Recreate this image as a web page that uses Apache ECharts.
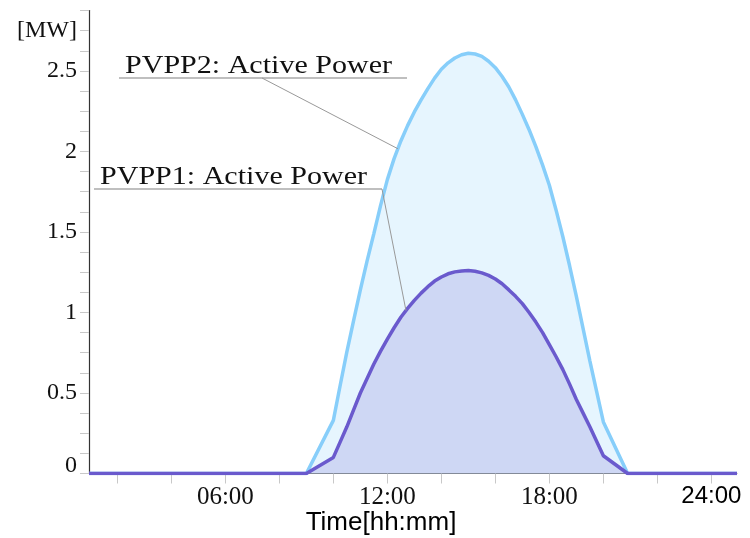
<!DOCTYPE html>
<html>
<head>
<meta charset="utf-8">
<script src="https://cdn.jsdelivr.net/npm/echarts@6/dist/echarts.min.js"></script>
<style>
html,body{margin:0;padding:0;background:#fff;}
#chart{width:750px;height:538px;}
</style>
</head>
<body>
<div id="chart"></div>
<script>
// ---- data (hours of day, MW) ----
const timeHours = [0.95, 9,
  10, 10.25, 10.5, 10.75, 11, 11.25, 11.5, 11.75, 12, 12.25, 12.5, 12.75,
  13, 13.25, 13.5, 13.75, 14, 14.25, 14.5, 14.75, 15, 15.25, 15.5, 15.75,
  16, 16.25, 16.5, 16.75, 17, 17.25, 17.5, 17.75, 18, 18.25, 18.5, 18.75,
  19, 19.25, 19.5, 19.75, 20, 20.9, 24.95];
const pvpp2Power = [0, 0,
  0.33, 0.545, 0.755, 0.95, 1.14, 1.32, 1.49, 1.665, 1.825, 1.955, 2.065, 2.16,
  2.245, 2.32, 2.39, 2.455, 2.51, 2.55, 2.58, 2.60, 2.61, 2.605, 2.59, 2.56,
  2.52, 2.465, 2.40, 2.32, 2.23, 2.135, 2.03, 1.915, 1.79, 1.635, 1.47, 1.29,
  1.10, 0.90, 0.70, 0.51, 0.32, 0, 0];
const pvpp1Power = [0, 0,
  0.10, 0.195, 0.29, 0.395, 0.50, 0.59, 0.68, 0.76, 0.835, 0.905, 0.97, 1.025,
  1.075, 1.12, 1.16, 1.195, 1.22, 1.24, 1.252, 1.258, 1.26, 1.256, 1.246, 1.23,
  1.208, 1.178, 1.14, 1.10, 1.055, 1.00, 0.94, 0.875, 0.80, 0.725, 0.645, 0.555,
  0.46, 0.375, 0.29, 0.20, 0.11, 0, 0];
const seriesNames = ['PVPP2: Active Power', 'PVPP1: Active Power'];
const xTickHours = [2, 4, 6, 8, 10, 12, 14, 16, 18, 20, 22, 24];
const xLabelHours = [6, 12, 18, 24];
const yUnitLabel = '[MW]';
// hour at which each annotation's leader line touches its curve
const annotationHours = [12.39, 12.69];

const SERIF = '"Liberation Serif", "DejaVu Serif", serif';
const SANS = '"Liberation Sans", Arial, sans-serif';

function pairs(xs, ys) { return xs.map((x, i) => [x, ys[i]]); }
function interp(xs, ys, h) {
  for (let i = 0; i < xs.length - 1; i++) {
    if (h >= xs[i] && h <= xs[i + 1]) {
      const t = (h - xs[i]) / (xs[i + 1] - xs[i]);
      return ys[i] + t * (ys[i + 1] - ys[i]);
    }
  }
  return 0;
}
function pad(n) { return (n < 10 ? '0' : '') + n; }

const chart = echarts.init(document.getElementById('chart'), null, {renderer: 'canvas'});

const option = {
  animation: false,
  backgroundColor: '#fff',
  grid: {left: 89, right: 13, top: 10.5, bottom: 64.5, containLabel: false, outerBoundsMode: 'none'},
  xAxis: {
    type: 'value',
    min: 0.95,
    max: 24.95,
    axisLine: {show: true, lineStyle: {color: '#888', width: 1}},
    axisTick: {show: true, customValues: xTickHours, length: 10, lineStyle: {color: '#c8c8c8', width: 1}},
    axisLabel: {
      customValues: xLabelHours,
      margin: 11,
      fontFamily: SERIF,
      fontSize: 25,
      color: '#111',
      formatter: function (v) {
        const s = pad(Math.round(v)) + ':00';
        return Math.round(v) === 24 ? '{s|' + s + '}' : s;
      },
      rich: {s: {fontFamily: SANS, fontSize: 24, color: '#000'}}
    },
    splitLine: {show: false},
    name: 'Time[hh:mm]',
    nameLocation: 'middle',
    nameGap: 36,
    nameMoveOverlap: false,
    nameTextStyle: {fontFamily: SANS, fontSize: 26, color: '#000', padding: [0, 64, 0, 0]}
  },
  yAxis: {
    type: 'value',
    min: 0,
    max: 2.875,
    interval: 0.125,
    axisLine: {show: true, lineStyle: {color: '#333', width: 1.2}},
    axisTick: {show: true, length: 9, lineStyle: {color: '#c8c8c8', width: 1}},
    axisLabel: {
      margin: 12,
      fontFamily: SERIF,
      fontSize: 24,
      color: '#111',
      formatter: function (v) {
        if (Math.abs(v - 2.75) < 1e-9) return yUnitLabel;
        if (Math.abs(v) < 1e-9) return '{z|0}';
        if (Math.abs(v / 0.5 - Math.round(v / 0.5)) < 1e-9) return String(+v.toFixed(2));
        return '';
      },
      rich: {z: {fontFamily: SERIF, fontSize: 24, color: '#111', padding: [0, 0, 16, 0]}}
    },
    splitLine: {show: false}
  },
  series: [
    {
      name: seriesNames[0],
      type: 'line',
      data: pairs(timeHours, pvpp2Power),
      showSymbol: false,
      smooth: false,
      lineStyle: {color: '#87cefa', width: 3.5},
      areaStyle: {color: 'rgba(135,206,250,0.3)'},
      z: 2
    },
    {
      name: seriesNames[1],
      type: 'line',
      data: pairs(timeHours, pvpp1Power),
      showSymbol: false,
      smooth: false,
      lineStyle: {color: '#6a5acd', width: 3.5},
      areaStyle: {color: 'rgba(106,90,205,0.28)'},
      z: 3
    }
  ]
};
chart.setOption(option);

// annotation layout (pixel positions of label text/underline)
const annotationLayout = [
  {textX: 125, textW: 267, lineX1: 119, lineX2: 407, lineY: 78, leaderFromX: 262},
  {textX: 100, textW: 267, lineX1: 94, lineX2: 382, lineY: 189, leaderFromX: 382}
];
const annFont = '26px ' + SERIF;
const mctx = document.createElement('canvas').getContext('2d');
mctx.font = annFont;
const seriesValues = [pvpp2Power, pvpp1Power];
const elements = [];
annotationLayout.forEach(function (a, i) {
  const h = annotationHours[i];
  const v = interp(timeHours, seriesValues[i], h);
  const p = chart.convertToPixel({xAxisIndex: 0, yAxisIndex: 0}, [h, v]);
  const w = mctx.measureText(seriesNames[i]).width || a.textW;
  elements.push({
    type: 'text', z: 10,
    x: a.textX, y: a.lineY + 1, scaleX: a.textW / w,
    style: {text: seriesNames[i], x: 0, y: 0, fill: '#111',
            font: annFont, verticalAlign: 'bottom', align: 'left'}
  });
  elements.push({
    type: 'line', z: 10,
    shape: {x1: a.lineX1, y1: a.lineY, x2: a.lineX2, y2: a.lineY},
    style: {stroke: '#aaa', lineWidth: 1.3}
  });
  elements.push({
    type: 'line', z: 10,
    shape: {x1: a.leaderFromX, y1: a.lineY, x2: p[0], y2: p[1]},
    style: {stroke: '#999', lineWidth: 1}
  });
});
chart.setOption({graphic: elements});
</script>
</body>
</html>
